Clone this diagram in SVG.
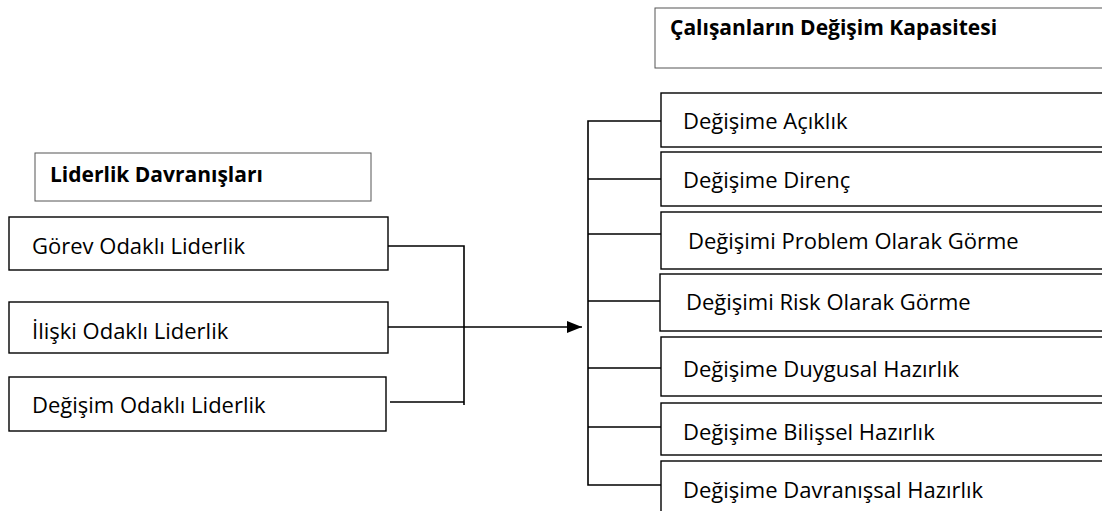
<svg xmlns="http://www.w3.org/2000/svg" width="1102" height="511" viewBox="0 0 1102 511">
<defs>
<style>
.box{fill:#fff;stroke:#000;stroke-width:1.4}
.hdr{fill:#fff;stroke:#555;stroke-width:1}
.t{font-family:"Open Sans","Liberation Sans",sans-serif;font-size:22px;fill:#000}
.b{font-weight:bold;font-size:21px}
.ln{stroke:#000;stroke-width:1.6;fill:none}
</style>
<marker id="arr" markerWidth="15" markerHeight="12" refX="15" refY="6" orient="auto" markerUnits="userSpaceOnUse">
<path d="M0,0 L15,6 L0,12 Z" fill="#000"/>
</marker>
</defs>
<rect width="1102" height="511" fill="#fff"/>
<g id="hdr-left"><rect class="hdr" x="35" y="153" width="336" height="48"/><text class="t b" x="50" y="182">Liderlik Davranışları</text></g>
<g id="gorev"><rect class="box" x="9" y="217" width="379" height="53"/><text class="t" x="32" y="254">Görev Odaklı Liderlik</text></g>
<g id="iliski"><rect class="box" x="9" y="302" width="379" height="51"/><text class="t" x="32" y="339">İlişki Odaklı Liderlik</text></g>
<g id="degisim"><rect class="box" x="9" y="377" width="377" height="54"/><text class="t" x="32" y="413">Değişim Odaklı Liderlik</text></g>
<g id="hdr-right"><rect class="hdr" x="655" y="8" width="460" height="60"/><text class="t b" x="670" y="35">Çalışanların Değişim Kapasitesi</text></g>
<g id="aciklik"><rect class="box" x="661" y="93" width="460" height="54"/><text class="t" x="683" y="129">Değişime Açıklık</text></g>
<g id="direnc"><rect class="box" x="661" y="152" width="460" height="54"/><text class="t" x="683" y="188">Değişime Direnç</text></g>
<g id="problem"><rect class="box" x="661" y="212" width="460" height="57"/><text class="t" x="688" y="249">Değişimi Problem Olarak Görme</text></g>
<g id="risk"><rect class="box" x="660" y="274" width="460" height="57"/><text class="t" x="686" y="310">Değişimi Risk Olarak Görme</text></g>
<g id="duygusal"><rect class="box" x="661" y="337" width="460" height="59"/><text class="t" x="683" y="377">Değişime Duygusal Hazırlık</text></g>
<g id="bilissel"><rect class="box" x="661" y="403" width="460" height="52"/><text class="t" x="683" y="440">Değişime Bilişsel Hazırlık</text></g>
<g id="davranissal"><rect class="box" x="661" y="461" width="460" height="60"/><text class="t" x="683" y="498">Değişime Davranışsal Hazırlık</text></g>
<g id="connectors">
<path class="ln" d="M388,246 H464 V405 M390,402 H464"/>
<path class="ln" d="M388,327 H582" marker-end="url(#arr)"/>
<path class="ln" d="M661,121 H588 V485 H661 M588,179 H661 M588,234 H661 M588,301 H660 M588,368 H661 M588,427 H661"/>
</g>
</svg>
